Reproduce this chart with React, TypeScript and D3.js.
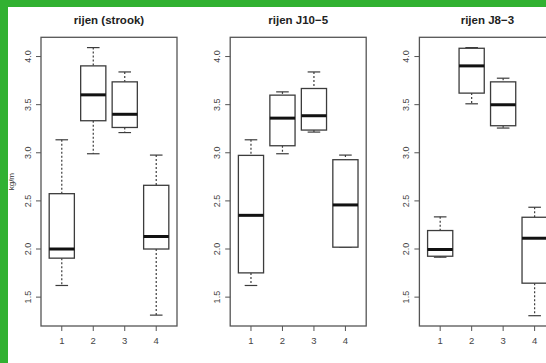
import React, { useEffect, useRef } from "react";
import * as d3 from "d3";

// boxplot stats per group: [lower whisker, Q1, median, Q3, upper whisker]
const categories = ["1", "2", "3", "4"];
const panelTitles = ["rijen (strook)", "rijen J10\u22125", "rijen J8\u22123"];
const yTicks = [1.5, 2.0, 2.5, 3.0, 3.5, 4.0];

const strookStats = [
  [1.621, 1.905, 2.0, 2.575, 3.135],
  [2.99, 3.333, 3.602, 3.903, 4.093],
  [3.21, 3.263, 3.4, 3.737, 3.84],
  [1.313, 2.0, 2.13, 2.662, 2.976],
];
const j10Stats = [
  [1.621, 1.752, 2.35, 2.973, 3.135],
  [2.99, 3.073, 3.36, 3.599, 3.633],
  [3.215, 3.236, 3.385, 3.668, 3.84],
  [2.019, 2.019, 2.458, 2.928, 2.976],
];
const j8Stats = [
  [1.915, 1.925, 1.995, 2.192, 2.334],
  [3.509, 3.62, 3.903, 4.086, 4.093],
  [3.257, 3.281, 3.499, 3.737, 3.775],
  [1.307, 1.645, 2.112, 2.33, 2.434],
];

const App = () => {
  const ref = useRef<SVGSVGElement>(null);

  useEffect(() => {
    const W = 546;
    const H = 363;
    const svg = d3.select(ref.current);
    svg.selectAll("*").remove();

    svg.append("rect").attr("width", W).attr("height", H).attr("fill", "#31b131");
    svg.append("rect").attr("x", 8).attr("y", 7).attr("width", W - 8).attr("height", H - 7).attr("fill", "#fff");

    const top = 37.3;
    const bottom = 326;
    const plotW = 136;
    const y = d3.scaleLinear().domain([1.2, 4.2]).range([bottom, top]);
    const font = "Liberation Sans, Arial, sans-serif";
    const lineCol = "#3c3c3c";

    const panels = [strookStats, j10Stats, j8Stats];

    panels.forEach((stats, p) => {
      const left = 41 + p * 189.2;
      const x = d3.scaleLinear().domain([0.34, 4.66]).range([left, left + plotW]);
      const g = svg.append("g");
      const bw = x(0.8) - x(0);
      const sw = bw / 2;

      // frame
      g.append("rect")
        .attr("x", left).attr("y", top)
        .attr("width", plotW).attr("height", bottom - top)
        .attr("fill", "none").attr("stroke", "#555").attr("stroke-width", 1.3);

      // title
      g.append("text")
        .attr("x", left + plotW / 2).attr("y", 24)
        .attr("text-anchor", "middle")
        .style("font-family", font).style("font-weight", "bold").style("font-size", "11.5px")
        .attr("fill", "#222")
        .text(panelTitles[p]);

      // y axis
      yTicks.forEach((t) => {
        g.append("line")
          .attr("x1", left - 5).attr("x2", left)
          .attr("y1", y(t)).attr("y2", y(t))
          .attr("stroke", "#555").attr("stroke-width", 1);
        g.append("text")
          .attr("transform", `translate(${left - 10},${y(t)}) rotate(-90)`)
          .attr("text-anchor", "middle")
          .style("font-family", font).style("font-size", "9px")
          .attr("fill", "#444")
          .text(t.toFixed(1));
      });

      // x axis
      categories.forEach((c, i) => {
        const cx = x(i + 1);
        g.append("line")
          .attr("x1", cx).attr("x2", cx)
          .attr("y1", bottom).attr("y2", bottom + 5)
          .attr("stroke", "#555").attr("stroke-width", 1);
        g.append("text")
          .attr("x", cx).attr("y", bottom + 18)
          .attr("text-anchor", "middle")
          .style("font-family", font).style("font-size", "9.5px")
          .attr("fill", "#444")
          .text(c);
      });

      // boxes
      stats.forEach((s, i) => {
        const [lo, q1, med, q3, hi] = s;
        const cx = x(i + 1);
        const b = g.append("g");
        // whiskers
        b.append("line")
          .attr("x1", cx).attr("x2", cx).attr("y1", y(hi)).attr("y2", y(q3))
          .attr("stroke", lineCol).attr("stroke-width", 1.2).attr("stroke-dasharray", "2,2");
        b.append("line")
          .attr("x1", cx).attr("x2", cx).attr("y1", y(q1)).attr("y2", y(lo))
          .attr("stroke", lineCol).attr("stroke-width", 1.2).attr("stroke-dasharray", "2,2");
        // staples
        [lo, hi].forEach((v) => {
          b.append("line")
            .attr("x1", cx - sw / 2).attr("x2", cx + sw / 2)
            .attr("y1", y(v)).attr("y2", y(v))
            .attr("stroke", lineCol).attr("stroke-width", 1.2);
        });
        // box
        b.append("rect")
          .attr("x", cx - bw / 2).attr("y", y(q3))
          .attr("width", bw).attr("height", y(q1) - y(q3))
          .attr("fill", "#fff").attr("stroke", lineCol).attr("stroke-width", 1.3);
        // median
        b.append("line")
          .attr("x1", cx - bw / 2).attr("x2", cx + bw / 2)
          .attr("y1", y(med)).attr("y2", y(med))
          .attr("stroke", "#111").attr("stroke-width", 3);
      });
    });

    // y label on the first panel
    svg.append("text")
      .attr("transform", `translate(14,${(top + bottom) / 2}) rotate(-90)`)
      .attr("text-anchor", "middle")
      .style("font-family", font).style("font-size", "8px")
      .attr("fill", "#333")
      .text("kg/m");
  }, []);

  return (
    <svg
      ref={ref}
      width={546}
      height={363}
      style={{ position: "absolute", left: 0, top: 0, display: "block" }}
    />
  );
};

export default App;
